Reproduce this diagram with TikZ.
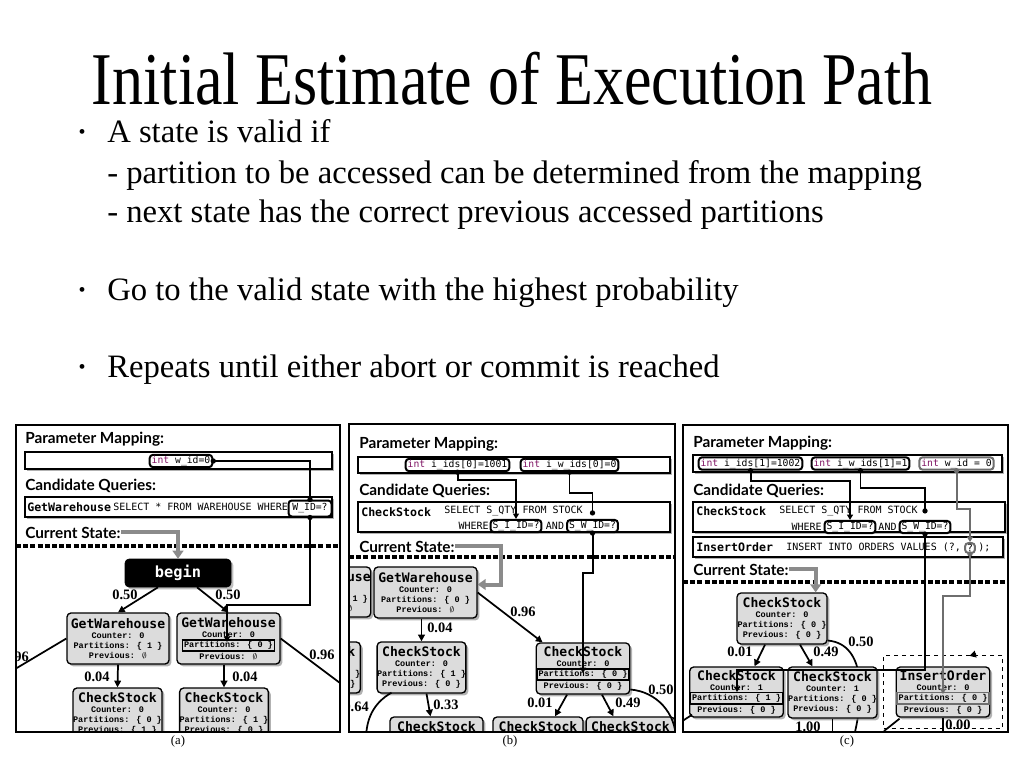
\documentclass[tikz,border=0pt]{standalone}
\usepackage{graphicx}
\usepackage{fontspec}
\setmainfont{Liberation Serif}
\newfontfamily\headfont{Lato}
\newfontfamily\codefont{DejaVu Sans Mono}
\newfontfamily\statefont{Liberation Mono}
\usetikzlibrary{positioning, arrows.meta, fit, calc, shadows}

\definecolor{intc}{RGB}{128,20,100}
\definecolor{stfill}{RGB}{220,220,220}
\definecolor{curgray}{RGB}{110,110,110}

\newcommand{\kw}{\textcolor{intc}{int}}
\newcommand{\hlb}[1]{{\setlength{\fboxsep}{0.6pt}\setlength{\fboxrule}{1.2pt}\fbox{#1}}}
\newcommand{\hlg}[1]{{\setlength{\fboxsep}{0.6pt}\setlength{\fboxrule}{1.2pt}\fcolorbox{curgray}{stfill}{#1}}}
\newcommand{\stbody}[4]{{\codefont\bfseries\fontsize{9.8}{11}\selectfont #1}\\ Counter: #2\\ #3\\ Previous: #4}

\begin{document}
\begin{tikzpicture}[
    x=0.75pt, y=-0.75pt,
    every node/.style={inner sep=0pt},
    wh/.style 2 args={minimum width=#1*0.75pt, minimum height=#2*0.75pt},
    bul/.style={font=\fontsize{24.5}{28}\selectfont, anchor=base west},
    bdot/.style={font=\fontsize{15}{15}\selectfont, anchor=base},
    head/.style={font=\headfont\bfseries\fontsize{11.5}{12}\selectfont, anchor=base west},
    bar/.style={draw, line width=1pt, fill=white, drop shadow={shadow xshift=1.5pt, shadow yshift=-1.5pt, opacity=0.6}},
    ibox/.style={draw, line width=1.5pt, rounded corners=2.5pt, fill=white, inner xsep=1.5pt, inner ysep=1pt, font=\codefont\fontsize{7.3}{8}\selectfont},
    gbox/.style={ibox, draw=curgray},
    code/.style={font=\codefont\fontsize{7.5}{8}\selectfont},
    qname/.style={font=\codefont\bfseries\fontsize{8.7}{9}\selectfont, anchor=west},
    state/.style={draw, line width=1pt, rounded corners=3pt, fill=stfill, align=center, font=\statefont\bfseries\fontsize{6.4}{7.6}\selectfont, drop shadow={shadow xshift=1.8pt, shadow yshift=-1.8pt, opacity=0.6}},
    beginbox/.style={draw, fill=black, rounded corners=3pt, text=white, font=\codefont\bfseries\fontsize{11.5}{12}\selectfont, drop shadow={shadow xshift=1.8pt, shadow yshift=-1.8pt, opacity=0.5}},
    prob/.style={font=\bfseries\fontsize{10.8}{11}\selectfont},
    sublbl/.style={font=\fontsize{9.5}{10}\selectfont},
    trans/.style={line width=1.3pt, -{Triangle[length=5pt, width=5pt]}},
    plain/.style={line width=1.3pt},
    map/.style={line width=1.5pt, -{Triangle[length=4pt, width=4.5pt]}},
    gmap/.style={map, draw=curgray},
    cur/.style={line width=3pt, draw=curgray!80, -{Triangle[length=6pt, width=8pt]}},
    sep/.style={line width=2.6pt, dash pattern=on 3.8pt off 1.6pt},
    dot/.style={circle, fill, minimum size=4pt},
    gdot/.style={dot, fill=curgray},
    panel/.style={draw, line width=1.2pt},
]
\path[use as bounding box, fill=white] (0,0) rectangle (1024,768);

% ---------- title and bullets ----------
\node[font=\fontsize{46.5}{52}\selectfont, anchor=base] (title) at (512,104) {\scalebox{1}[1.2]{Initial Estimate of Execution Path}};
\node[bdot] (d1) at (82,138) {•};
\node[bul] (b1) at (107,142) {A state is valid if};
\node[bul] (b1a) at (107,183) {- partition to be accessed can be determined from the mapping};
\node[bul] (b1b) at (107,222) {- next state has the correct previous accessed partitions};
\node[bdot] (d2) at (82,296) {•};
\node[bul] (b2) at (107,300) {Go to the valid state with the highest probability};
\node[bdot] (d3) at (82,373) {•};
\node[bul] (b3) at (107,377) {Repeats until either abort or commit is reached};

% ---------- panel (a) ----------
\begin{scope}
\clip (16,425) rectangle (340,732);
\node[head] (amaphd) at (25,443) {Parameter Mapping:};
\node[bar, wh={307}{17}] (amap) at (178.5,460.5) {};
\node[ibox] (aint) at (181,461) {\kw\ w\_id=0};
\node[head] (aqhd) at (25,490) {Candidate Queries:};
\node[bar, wh={307}{20}] (aqry) at (178.5,507) {};
\node[qname] (aqn) at (27,507) {GetWarehouse};
\node[code, anchor=west] (aqs) at (113,507) {SELECT * FROM WAREHOUSE WHERE};
\node[ibox, wh={43}{16}] (aqb) at (310,508.5) {W\_ID=?};
\node[head] (acshd) at (25,538) {Current State:};
\draw[sep] (16,546) -- (340,546);
\node[beginbox, wh={106}{28}] (abegin) at (178,573) {begin};
\draw[cur] (acshd.east) -| (abegin.north);

\node[state, wh={102}{51}] (ag1) at (118,638.5) {\stbody{GetWarehouse}{0}{Partitions: \{ 1 \}}{$\emptyset$}};
\node[state, wh={103}{51}] (ag2) at (228.5,638.5) {\stbody{GetWarehouse}{0}{\hlb{Partitions: \{ 0 \}}}{$\emptyset$}};
\node[state, wh={89}{51}] (ac1) at (117.5,713.5) {\stbody{CheckStock}{0}{Partitions: \{ 0 \}}{\{ 1 \}}};
\node[state, wh={88}{51}] (ac2) at (224,713.5) {\stbody{CheckStock}{0}{Partitions: \{ 1 \}}{\{ 0 \}}};

\draw[trans] ($(abegin.south)+(-20,0)$) -- (ag1.north);
\node[prob] (ap1) at (125,595) {0.50};
\draw[trans] ($(abegin.south)+(19,0)$) -- (ag2.north);
\node[prob] (ap2) at (228,595) {0.50};
\coordinate (aoffl) at (0,678);
\draw[plain] (ag1.west) -- (aoffl);
\node[prob, anchor=east] (ap3) at (29,657) {0.96};
\coordinate (aoffr) at (352,692);
\draw[plain] (ag2.east) -- (aoffr);
\node[prob] (ap4) at (322,655) {0.96};
\draw[trans] (ag1.south) -- (ac1.north);
\node[prob] (ap5) at (97,677) {0.04};
\draw[trans] (ag2.south -| ac2.north) -- (ac2.north);
\node[prob] (ap6) at (245,677) {0.04};

% mapping of w_id into the partition
\draw[plain] (aint.east) node[dot] {} -| (aqb.north) node[dot] {};
\coordinate (apart) at (227,642);
\draw[map] (aqb.south) node[dot] {} -- ++(0,87) -| (apart);
\end{scope}
\draw[panel] (16,425) rectangle (340,732);
\node[sublbl] (alab) at (178,741) {(a)};

% ---------- panel (b) ----------
\begin{scope}
\clip (349,424) rectangle (675,732);
\node[head] (bmaphd) at (359,448) {Parameter Mapping:};
\node[bar, wh={312}{16}] (bmap) at (514,465) {};
\node[ibox] (bint1) at (457.5,465) {\kw\ i\_ids[0]=1001};
\node[ibox] (bint2) at (569.5,465) {\kw\ i\_w\_ids[0]=0};
\node[head] (bqhd) at (359,495) {Candidate Queries:};
\node[bar, wh={312}{30}] (bqry) at (514,517) {};
\node[qname] (bqn) at (361,512) {CheckStock};
\node[code, anchor=west] (bqs) at (444,511) {SELECT S\_QTY FROM STOCK};
\node[code, anchor=east] (bqw) at (489,526) {WHERE};
\node[ibox] (bqb1) at (516,526) {S\_I\_ID=?};
\node[code] (bqa) at (555,526) {AND};
\node[ibox] (bqb2) at (592.5,526) {S\_W\_ID=?};
\node[head] (bcshd) at (359,552) {Current State:};
\draw[sep] (349,557) -- (675,557);

\node[state, wh={87}{50}] (bgw0) at (323.5,592) {\stbody{GetWarehouse}{0}{Partitions: \{ 1 \}}{$\emptyset$}};
\node[state, wh={103}{51}] (bgw) at (425.5,592.5) {\stbody{GetWarehouse}{0}{Partitions: \{ 0 \}}{$\emptyset$}};
\draw[cur] (bcshd.east) -| ($(bgw.east)+(23,-8)$) -- ($(bgw.east)+(0,-8)$);
\node[state, wh={88}{51}] (bcs0) at (316,667.5) {\stbody{CheckStock}{0}{Partitions: \{ 0 \}}{\{ 0 \}}};
\node[state, wh={87}{51}] (bcs1) at (421.5,667.5) {\stbody{CheckStock}{0}{Partitions: \{ 1 \}}{\{ 0 \}}};
\node[state, wh={90}{51}] (bcs2) at (583,668.5) {\stbody{CheckStock}{0}{\hlb{Partitions: \{ 0 \}}}{\{ 0 \}}};
\node[state, wh={93}{51}] (bcs3) at (436.5,742.5) {\stbody{CheckStock}{0}{Partitions: \{ 1 \}}{\{ 1 \}}};
\node[state, wh={90}{51}] (bcs4) at (538,742.5) {\stbody{CheckStock}{1}{Partitions: \{ 1 \}}{\{ 0 \}}};
\node[state, wh={85}{51}] (bcs5) at (630.5,742.5) {\stbody{CheckStock}{1}{Partitions: \{ 0 \}}{\{ 0 \}}};

\draw[trans] (bgw.south -| bcs1.north) -- (bcs1.north);
\node[prob, anchor=west] (bp1) at (427,628) {0.04};
\draw[trans] (bgw.east) -- ($(bcs2.north west)+(7,0)$);
\node[prob] (bp2) at (523,612) {0.96};
\coordinate (bofl) at (366,740);
\draw[plain] ($(bcs1.south west)+(15,-1)$) to[out=-150, in=90] (bofl);
\node[prob, anchor=east] (bp3) at (369,707) {0.64};
\draw[trans] ($(bcs1.south)+(5,0)$) -- ($(bcs3.north)+(-6,0)$);
\node[prob, anchor=west] (bp4) at (433,705) {0.33};
\draw[trans] ($(bcs2.south)+(-16,0)$) -- ($(bcs4.north)+(17,0)$);
\node[prob] (bp5) at (540,703) {0.01};
\draw[trans] ($(bcs2.south)+(19,0)$) -- ($(bcs5.north)+(-17,0)$);
\node[prob] (bp6) at (628,703) {0.49};
\coordinate (bofr) at (676,740);
\draw[plain] ($(bcs2.east)+(0,21)$) to[out=-5, in=90] (bofr);
\node[prob] (bp7) at (661,690) {0.50};

% mapping of the two parameters
\draw[map] (bint1.south) node[dot] {} -- ++(0,8) -| (bqb1.north);
\draw[plain] (bint2.south) node[dot] {} -- ++(0,21) -| ($(bqb2.north)+(0,-6)$) node[dot] {};
\coordinate (bpart) at (583,673);
\draw[map] (bqb2.south) node[dot] {} -- ++(0,40) -| (bpart);
\end{scope}
\draw[panel] (349,424) rectangle (675,732);
\node[sublbl] (blab) at (510,741) {(b)};

% ---------- panel (c) ----------
\begin{scope}
\clip (683,425) rectangle (1008,732);
\node[head] (cmaphd) at (693,447) {Parameter Mapping:};
\node[bar, wh={309}{17}] (cmap) at (847.5,463.5) {};
\node[ibox] (cint1) at (750.5,463.5) {\kw\ i\_ids[1]=1002};
\node[ibox] (cint2) at (860.5,463.5) {\kw\ i\_w\_ids[1]=1};
\node[gbox] (cint3) at (956.5,463.5) {\kw\ w\_id = 0};
\node[head] (cqhd) at (693,495) {Candidate Queries:};
\node[bar, wh={312}{30}] (cq1) at (849,517) {};
\node[qname] (cq1n) at (696,511) {CheckStock};
\node[code, anchor=west] (cq1s) at (779,511) {SELECT S\_QTY FROM STOCK};
\node[code, anchor=east] (cq1w) at (822,527) {WHERE};
\node[ibox] (ccb1) at (850,527) {S\_I\_ID=?};
\node[code] (cq1a) at (887.5,527) {AND};
\node[ibox] (ccb2) at (925,527) {S\_W\_ID=?};
\node[bar, wh={310}{20}] (cq2) at (848,547) {};
\node[qname] (cq2n) at (696,547) {InsertOrder};
\node[code, anchor=west] (cq2s) at (786,547) {INSERT INTO ORDERS VALUES (?,};
\node[gbox] (cqb) at (970,548) {?};
\node[code, anchor=west] (cq2e) at (978,547) {);};
\node[head] (ccshd) at (693,575) {Current State:};
\draw[sep] (683,582) -- (1008,582);

\node[state, wh={90}{51}] (ccs) at (782,618.5) {\stbody{CheckStock}{0}{Partitions: \{ 0 \}}{\{ 0 \}}};
\draw[cur] (ccshd.east) -| ($(ccs.north east)+(-12,0)$);
\coordinate (cbotm) at (853,740);
\draw[plain] ($(ccs.east)+(0,22)$) to[out=-5, in=75] (cbotm);
\node[state, wh={87}{50}] (ccl) at (736.5,692) {\stbody{CheckStock}{1}{\hlb{Partitions: \{ 1 \}}}{\{ 0 \}}};
\node[state, wh={89}{51}] (ccm) at (832.5,692.5) {\stbody{CheckStock}{1}{Partitions: \{ 0 \}}{\{ 0 \}}};
\node[state, wh={92}{50}] (cio) at (943,692) {\stbody{InsertOrder}{0}{\hlg{Partitions: \{ 0 \}}}{\{ 0 \}}};
\node[draw, dashed, line width=1.2pt, fit=(cio), inner xsep=9pt, inner ysep=8pt] (cgrp) {};

\draw[trans] ($(ccs.south)+(-17,0)$) -- ($(ccl.north)+(18,0)$);
\node[prob] (cp1) at (740,652) {0.01};
\draw[trans] ($(ccs.south)+(18,0)$) -- ($(ccm.north)+(-20,0)$);
\node[prob] (cp2) at (826,652) {0.49};
\node[prob] (cp3) at (861,642) {0.50};
\coordinate (cofl) at (678,724);
\draw[plain] ($(ccl.south west)+(3,-3)$) -- (cofl);
\coordinate (cbotv) at (832.5,740);
\draw[plain] (ccm.south) -- (cbotv);
\node[prob] (cp4) at (808,727) {1.00};
\coordinate (cbotw) at (943,740);
\draw[plain] (cio.south) -- (cbotw);
\node[prob] (cp5) at (958,725) {0.00};
\coordinate (cofg) at (884,731);
\draw[plain] ($(cio.south west)+(4,1)$) -- (cofg);
\coordinate (ctip) at (976,654);
\draw[trans] (ctip) -- ($(cgrp.north east)+(-34,1)$);

% mapping of the three parameters
\draw[map] (cint1.south) node[dot] {} -- ++(0,10) -| (ccb1.north);
\draw[plain] (cint2.south) node[dot] {} -- ++(0,17) -| ($(ccb2.north)+(0,-9)$) node[dot] {};
\coordinate (clpart) at (737,692);
\draw[map] (ccb2.south) node[dot] {} -- ++(0,136) -| (clpart);
\draw[gmap] (cint3.south) node[gdot] {} -- ++(0,38) -| (cqb.north);
\coordinate (cipart) at (943,694);
\draw[gmap] (cqb.south) node[gdot] {} -- ++(0,42) -| (cipart);
\end{scope}
\draw[panel] (683,425) rectangle (1008,732);
\node[sublbl] (clab) at (847,741) {(c)};

\end{tikzpicture}
\end{document}
